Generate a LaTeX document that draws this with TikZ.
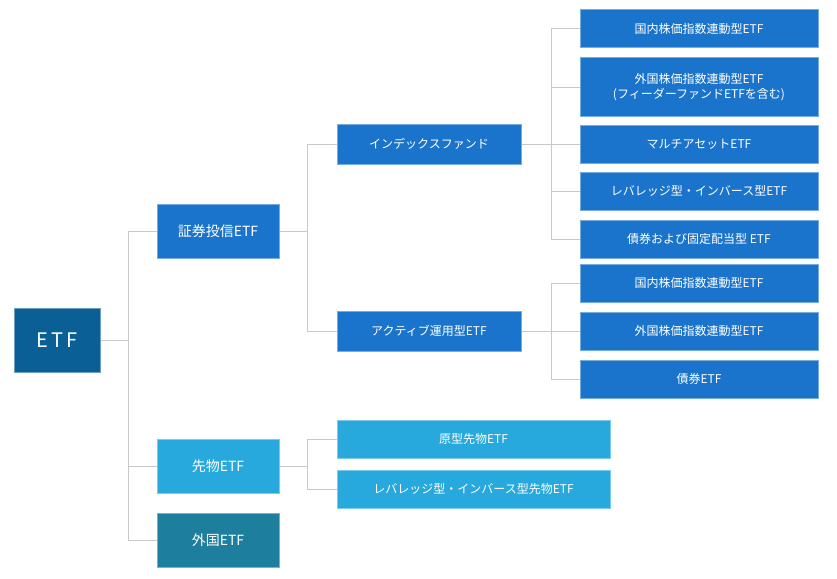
\documentclass[tikz,border=0pt]{standalone}
\usepackage{fontspec}
\setmainfont{Noto Sans CJK JP}
\definecolor{dk}{HTML}{0B5F97}
\definecolor{md}{HTML}{1B74CB}
\definecolor{lt}{HTML}{27A9DD}
\definecolor{tl}{HTML}{1E7E9E}
\definecolor{ln}{HTML}{C8C8C8}
\begin{document}
\begin{tikzpicture}[x=1pt,y=-1pt,
 b/.style={draw=#1!60!white,line width=1pt,fill=#1,text=white,font=\fontsize{12}{15}\selectfont,inner sep=0pt,align=center},
 l/.style={draw=ln,line width=1pt}]
\useasboundingbox (0,0) rectangle (837,578);
\newcommand\bx[6]{\node[b=#6,minimum width={#3-#1},minimum height={#4-#2}] (#5) at ({(#1+#3)/2},{(#2+#4)/2})}
\bx{14}{308}{100}{372}{etf}{dk} {\fontsize{20}{24}\selectfont E\,T\,F};
\bx{157}{204}{279}{258}{sh}{md} {\fontsize{14}{17}\selectfont 証券投信ETF};
\bx{157}{439}{279}{493}{sa}{lt} {\fontsize{14}{17}\selectfont 先物ETF};
\bx{157}{513}{279}{567}{gai}{tl} {\fontsize{14}{17}\selectfont 外国ETF};
\bx{337}{124}{521}{164}{idx}{md} {インデックスファンド};
\bx{337}{311}{521}{351}{act}{md} {アクティブ運用型ETF};
\bx{580}{10}{818}{48}{r1}{md} {国内株価指数連動型ETF};
\bx{580}{58}{818}{116}{r2}{md} {外国株価指数連動型ETF\\(フィーダーファンドETFを含む)};
\bx{580}{125}{818}{163}{r3}{md} {マルチアセットETF};
\bx{580}{172}{818}{210}{r4}{md} {レバレッジ型・インバース型ETF};
\bx{580}{220}{818}{258}{r5}{md} {債券および固定配当型 ETF};
\bx{580}{264}{818}{302}{r6}{md} {国内株価指数連動型ETF};
\bx{580}{312}{818}{350}{r7}{md} {外国株価指数連動型ETF};
\bx{580}{360}{818}{398}{r8}{md} {債券ETF};
\bx{337}{420}{610}{458}{f1}{lt} {原型先物ETF};
\bx{337}{470}{610}{508}{f2}{lt} {レバレッジ型・インバース型先物ETF};
\begin{scope}[on background layer/.try]
\coordinate (j0) at (128,0); \coordinate (j1) at (307,0);
\coordinate (j2) at (551,0); \coordinate (j3) at (307,0);
\draw[l] (etf.east) -- (etf.east -| j0);
\draw[l] (sh.west -| j0) -- (gai.west -| j0);
\foreach \n in {sh,sa,gai} \draw[l] (\n.west -| j0) -- (\n.west);
\draw[l] (sh.east) -- (sh.east -| j1);
\draw[l] (idx.west -| j1) -- (act.west -| j1);
\foreach \n in {idx,act} \draw[l] (\n.west -| j1) -- (\n.west);
\draw[l] (idx.east) -- (idx.east -| j2);
\draw[l] (r1.west -| j2) -- (r5.west -| j2);
\foreach \n in {r1,r2,r3,r4,r5,r6,r7,r8} \draw[l] (\n.west -| j2) -- (\n.west);
\draw[l] (act.east) -- (act.east -| j2);
\draw[l] (r6.west -| j2) -- (r8.west -| j2);
\draw[l] (sa.east) -- (sa.east -| j3);
\draw[l] (f1.west -| j3) -- (f2.west -| j3);
\foreach \n in {f1,f2} \draw[l] (\n.west -| j3) -- (\n.west);
\end{scope}
\end{tikzpicture}
\end{document}
